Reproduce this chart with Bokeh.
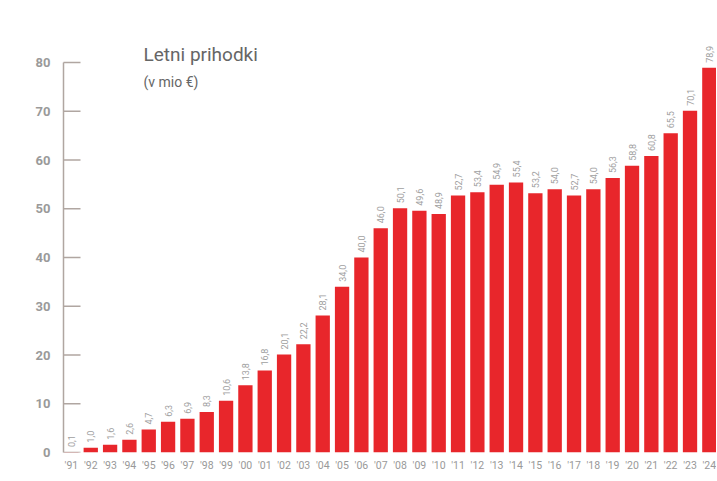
import math
from bokeh.plotting import figure
from bokeh.models import ColumnDataSource, FixedTicker, Label, Range1d
from bokeh.core.properties import value
from bokeh.embed import file_html
from bokeh.resources import INLINE

years = ["'91", "'92", "'93", "'94", "'95", "'96", "'97", "'98", "'99", "'00",
         "'01", "'02", "'03", "'04", "'05", "'06", "'07", "'08", "'09", "'10",
         "'11", "'12", "'13", "'14", "'15", "'16", "'17", "'18", "'19", "'20",
         "'21", "'22", "'23", "'24"]
revenue = [0.1, 1.0, 1.6, 2.6, 4.7, 6.3, 6.9, 8.3, 10.6, 13.8,
           16.8, 20.1, 22.2, 28.1, 34.0, 40.0, 46.0, 50.1, 49.6, 48.9,
           52.7, 53.4, 54.9, 55.4, 53.2, 54.0, 52.7, 54.0, 56.3, 58.8,
           60.8, 65.5, 70.1, 78.9]
y_ticks = [0, 10, 20, 30, 40, 50, 60, 70, 80]

AXIS_COLOR = "#b0a6a1"

xs = list(range(len(years)))
src = ColumnDataSource(dict(
    x=xs, top=revenue,
    lbl=[f"{v:.1f}".replace(".", ",") for v in revenue],
))

x_range = Range1d(-0.41, 33.37)
p = figure(width=716, height=478, output_backend="svg", toolbar_location=None,
           x_range=x_range, y_range=Range1d(0, 88),
           min_border_left=63, min_border_right=0, min_border_top=23, min_border_bottom=26)
p.background_fill_color = "white"
p.border_fill_color = "white"
p.outline_line_color = None
p.grid.grid_line_color = None

p.vbar(x="x", top="top", width=0.74, source=src, color="#e8262b", line_color=None)

p.text(x="x", y="top", text="lbl", source=src, angle=math.pi / 2,
       text_align="left", text_baseline="middle", y_offset=-5,
       text_font=value("Roboto"), text_font_size="9px", text_color="#a0a0a0")

# inward tick marks on the y axis (half of each dash is clipped by the frame)
p.scatter(x=[x_range.start] * len(y_ticks), y=y_ticks, marker="dash", size=34,
          line_color=AXIS_COLOR, line_width=1.5)

# y axis
ya = p.yaxis[0]
ya.ticker = FixedTicker(ticks=y_ticks)
ya.bounds = (0, 80)
ya.axis_line_color = AXIS_COLOR
ya.axis_line_width = 1.5
ya.major_tick_in = 0
ya.major_tick_out = 0
ya.major_tick_line_color = None
ya.minor_tick_line_color = None
ya.major_label_text_color = "#9a9a9a"
ya.major_label_text_font = "Roboto"
ya.major_label_text_font_style = "bold"
ya.major_label_text_font_size = "13px"
ya.major_label_standoff = 13

# x axis
xa = p.xaxis[0]
xa.ticker = FixedTicker(ticks=xs)
xa.major_label_overrides = {i: y for i, y in enumerate(years)}
xa.axis_line_color = None
xa.major_tick_line_color = None
xa.major_tick_in = 0
xa.major_tick_out = 0
xa.minor_tick_line_color = None
xa.major_label_text_color = "#999999"
xa.major_label_text_font = "Roboto"
xa.major_label_text_font_size = "10.5px"
xa.major_label_standoff = 6

p.add_layout(Label(x=3.73, y=84.1, text="Letni prihodki", text_baseline="top",
                   text_font="Roboto", text_font_size="19px", text_color="#666666"))
p.add_layout(Label(x=3.73, y=77.7, text="(v mio €)", text_baseline="top",
                   text_font="Roboto", text_font_size="14px", text_color="#666666"))

open("out.html", "w").write(file_html(p, INLINE))
